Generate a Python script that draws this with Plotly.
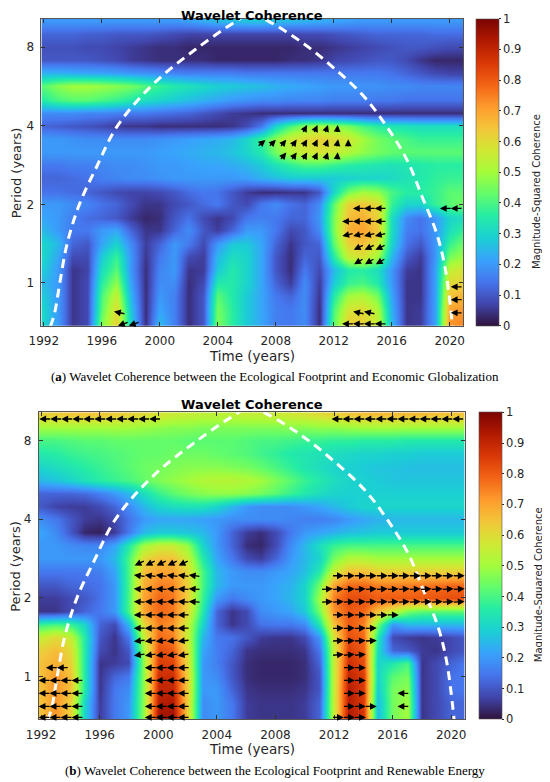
import numpy as np
import plotly.graph_objects as go

# ---------------- data ----------------
years = list(range(1992, 2022))

# period rows, top of the plot first
periods = [10.08, 8.98, 8.0, 7.13, 6.35, 5.66, 5.04, 4.49, 4.0, 3.56, 3.17, 2.83,
           2.52, 2.24, 2.0, 1.78, 1.59, 1.41, 1.26, 1.12, 1.0, 0.89, 0.79, 0.71]

# (a) Ecological Footprint vs Economic Globalization
coh_a = [
    [0.2, 0.2, 0.2, 0.2, 0.2, 0.2, 0.2, 0.2, 0.2, 0.2, 0.21, 0.23, 0.25, 0.26, 0.27, 0.27, 0.26, 0.25, 0.24, 0.23, 0.22, 0.21, 0.2, 0.2, 0.2, 0.2, 0.2, 0.2, 0.2, 0.2],
    [0.12, 0.12, 0.12, 0.11, 0.11, 0.1, 0.1, 0.1, 0.09, 0.08, 0.07, 0.07, 0.07, 0.07, 0.07, 0.07, 0.07, 0.07, 0.08, 0.08, 0.09, 0.1, 0.11, 0.12, 0.12, 0.12, 0.12, 0.13, 0.13, 0.13],
    [0.09, 0.09, 0.09, 0.08, 0.08, 0.07, 0.06, 0.05, 0.04, 0.04, 0.03, 0.03, 0.03, 0.03, 0.03, 0.03, 0.03, 0.03, 0.04, 0.04, 0.05, 0.06, 0.07, 0.08, 0.09, 0.1, 0.1, 0.09, 0.08, 0.08],
    [0.1, 0.1, 0.1, 0.1, 0.09, 0.08, 0.06, 0.05, 0.04, 0.04, 0.04, 0.04, 0.03, 0.03, 0.03, 0.03, 0.03, 0.04, 0.04, 0.05, 0.07, 0.08, 0.09, 0.1, 0.1, 0.08, 0.05, 0.03, 0.03, 0.03],
    [0.24, 0.24, 0.23, 0.22, 0.22, 0.21, 0.2, 0.19, 0.18, 0.17, 0.16, 0.16, 0.16, 0.16, 0.15, 0.15, 0.15, 0.15, 0.15, 0.15, 0.15, 0.15, 0.15, 0.15, 0.14, 0.12, 0.1, 0.08, 0.07, 0.07],
    [0.42, 0.47, 0.5, 0.5, 0.49, 0.47, 0.45, 0.41, 0.38, 0.35, 0.33, 0.31, 0.29, 0.28, 0.27, 0.26, 0.24, 0.23, 0.22, 0.21, 0.2, 0.2, 0.19, 0.19, 0.18, 0.18, 0.17, 0.17, 0.17, 0.17],
    [0.36, 0.4, 0.42, 0.42, 0.4, 0.38, 0.35, 0.32, 0.3, 0.28, 0.26, 0.24, 0.22, 0.2, 0.19, 0.18, 0.18, 0.17, 0.17, 0.17, 0.16, 0.16, 0.16, 0.15, 0.15, 0.14, 0.14, 0.14, 0.14, 0.14],
    [0.18, 0.18, 0.18, 0.17, 0.17, 0.16, 0.15, 0.15, 0.14, 0.13, 0.12, 0.1, 0.08, 0.06, 0.05, 0.04, 0.04, 0.04, 0.04, 0.04, 0.04, 0.04, 0.04, 0.04, 0.04, 0.04, 0.04, 0.04, 0.04, 0.04],
    [0.12, 0.11, 0.1, 0.09, 0.08, 0.06, 0.05, 0.05, 0.04, 0.04, 0.04, 0.04, 0.04, 0.05, 0.08, 0.15, 0.3, 0.4, 0.47, 0.5, 0.48, 0.45, 0.4, 0.36, 0.34, 0.33, 0.32, 0.32, 0.32, 0.32],
    [0.2, 0.2, 0.19, 0.18, 0.18, 0.18, 0.18, 0.18, 0.19, 0.2, 0.21, 0.22, 0.23, 0.25, 0.3, 0.38, 0.48, 0.56, 0.6, 0.62, 0.6, 0.57, 0.5, 0.45, 0.42, 0.4, 0.38, 0.38, 0.38, 0.38],
    [0.2, 0.2, 0.2, 0.2, 0.2, 0.2, 0.2, 0.2, 0.21, 0.22, 0.23, 0.24, 0.25, 0.27, 0.3, 0.35, 0.45, 0.52, 0.56, 0.58, 0.56, 0.52, 0.48, 0.45, 0.43, 0.42, 0.42, 0.42, 0.42, 0.42],
    [0.15, 0.15, 0.16, 0.16, 0.17, 0.18, 0.18, 0.19, 0.2, 0.2, 0.21, 0.22, 0.22, 0.23, 0.25, 0.28, 0.33, 0.37, 0.4, 0.4, 0.38, 0.36, 0.35, 0.34, 0.33, 0.34, 0.35, 0.36, 0.36, 0.36],
    [0.12, 0.12, 0.13, 0.14, 0.16, 0.17, 0.18, 0.18, 0.19, 0.2, 0.2, 0.2, 0.2, 0.2, 0.21, 0.24, 0.26, 0.28, 0.28, 0.28, 0.28, 0.29, 0.3, 0.3, 0.31, 0.33, 0.35, 0.37, 0.38, 0.38],
    [0.14, 0.14, 0.13, 0.12, 0.1, 0.08, 0.07, 0.07, 0.08, 0.1, 0.13, 0.15, 0.14, 0.1, 0.06, 0.04, 0.04, 0.05, 0.05, 0.1, 0.3, 0.45, 0.5, 0.48, 0.4, 0.36, 0.36, 0.38, 0.42, 0.42],
    [0.2, 0.2, 0.18, 0.17, 0.14, 0.12, 0.08, 0.05, 0.05, 0.08, 0.1, 0.13, 0.15, 0.1, 0.08, 0.15, 0.18, 0.14, 0.12, 0.18, 0.42, 0.62, 0.64, 0.6, 0.38, 0.3, 0.3, 0.38, 0.42, 0.45],
    [0.22, 0.2, 0.16, 0.13, 0.12, 0.1, 0.06, 0.03, 0.04, 0.1, 0.14, 0.08, 0.05, 0.08, 0.15, 0.16, 0.15, 0.12, 0.12, 0.2, 0.45, 0.66, 0.68, 0.62, 0.32, 0.18, 0.14, 0.2, 0.3, 0.32],
    [0.25, 0.2, 0.15, 0.15, 0.2, 0.22, 0.12, 0.05, 0.05, 0.12, 0.18, 0.1, 0.06, 0.12, 0.2, 0.2, 0.15, 0.08, 0.1, 0.18, 0.45, 0.68, 0.7, 0.64, 0.32, 0.16, 0.14, 0.2, 0.32, 0.38],
    [0.3, 0.25, 0.12, 0.1, 0.22, 0.3, 0.18, 0.06, 0.12, 0.2, 0.15, 0.08, 0.2, 0.28, 0.28, 0.22, 0.12, 0.05, 0.1, 0.12, 0.42, 0.62, 0.65, 0.58, 0.3, 0.14, 0.1, 0.2, 0.38, 0.45],
    [0.3, 0.22, 0.08, 0.08, 0.28, 0.38, 0.2, 0.05, 0.15, 0.2, 0.08, 0.06, 0.25, 0.32, 0.3, 0.22, 0.1, 0.04, 0.12, 0.1, 0.35, 0.55, 0.58, 0.5, 0.25, 0.1, 0.06, 0.2, 0.45, 0.5],
    [0.28, 0.2, 0.05, 0.07, 0.32, 0.42, 0.2, 0.04, 0.17, 0.2, 0.05, 0.06, 0.28, 0.35, 0.3, 0.22, 0.1, 0.04, 0.15, 0.08, 0.25, 0.35, 0.36, 0.32, 0.2, 0.06, 0.05, 0.22, 0.55, 0.58],
    [0.25, 0.2, 0.05, 0.08, 0.36, 0.48, 0.22, 0.04, 0.18, 0.18, 0.04, 0.08, 0.35, 0.35, 0.3, 0.22, 0.12, 0.06, 0.18, 0.06, 0.28, 0.38, 0.4, 0.35, 0.2, 0.05, 0.05, 0.22, 0.6, 0.62],
    [0.28, 0.2, 0.05, 0.08, 0.4, 0.55, 0.25, 0.04, 0.2, 0.16, 0.04, 0.1, 0.42, 0.35, 0.28, 0.22, 0.15, 0.12, 0.18, 0.05, 0.35, 0.5, 0.52, 0.45, 0.22, 0.05, 0.05, 0.22, 0.65, 0.68],
    [0.3, 0.2, 0.05, 0.08, 0.42, 0.6, 0.28, 0.04, 0.22, 0.16, 0.04, 0.1, 0.45, 0.36, 0.28, 0.22, 0.16, 0.15, 0.18, 0.04, 0.4, 0.58, 0.6, 0.52, 0.24, 0.05, 0.06, 0.22, 0.7, 0.72],
    [0.3, 0.2, 0.05, 0.08, 0.45, 0.62, 0.3, 0.04, 0.25, 0.16, 0.04, 0.1, 0.46, 0.36, 0.28, 0.22, 0.16, 0.15, 0.18, 0.04, 0.42, 0.62, 0.62, 0.55, 0.25, 0.05, 0.06, 0.22, 0.72, 0.74],
]

# (b) Ecological Footprint vs Renewable Energy
coh_b = [
    [0.62, 0.63, 0.64, 0.64, 0.64, 0.63, 0.62, 0.6, 0.58, 0.56, 0.55, 0.54, 0.54, 0.54, 0.55, 0.55, 0.56, 0.57, 0.58, 0.6, 0.62, 0.64, 0.65, 0.66, 0.66, 0.66, 0.66, 0.65, 0.65, 0.65],
    [0.5, 0.5, 0.5, 0.5, 0.5, 0.5, 0.5, 0.49, 0.48, 0.47, 0.47, 0.46, 0.46, 0.46, 0.46, 0.46, 0.46, 0.47, 0.47, 0.48, 0.48, 0.49, 0.5, 0.5, 0.5, 0.5, 0.5, 0.5, 0.5, 0.5],
    [0.4, 0.4, 0.41, 0.42, 0.42, 0.43, 0.43, 0.43, 0.43, 0.43, 0.42, 0.42, 0.42, 0.42, 0.41, 0.4, 0.4, 0.39, 0.38, 0.38, 0.37, 0.37, 0.36, 0.36, 0.36, 0.35, 0.35, 0.35, 0.35, 0.35],
    [0.35, 0.36, 0.38, 0.39, 0.4, 0.41, 0.42, 0.43, 0.43, 0.44, 0.44, 0.44, 0.43, 0.42, 0.41, 0.39, 0.37, 0.35, 0.34, 0.33, 0.32, 0.31, 0.3, 0.3, 0.29, 0.29, 0.28, 0.28, 0.28, 0.28],
    [0.3, 0.32, 0.34, 0.36, 0.38, 0.4, 0.42, 0.44, 0.45, 0.46, 0.47, 0.47, 0.47, 0.46, 0.45, 0.43, 0.4, 0.37, 0.34, 0.32, 0.3, 0.29, 0.28, 0.27, 0.27, 0.26, 0.26, 0.26, 0.26, 0.26],
    [0.25, 0.27, 0.3, 0.33, 0.36, 0.38, 0.4, 0.43, 0.46, 0.48, 0.5, 0.52, 0.53, 0.53, 0.52, 0.5, 0.46, 0.42, 0.38, 0.35, 0.32, 0.3, 0.29, 0.28, 0.27, 0.27, 0.27, 0.27, 0.27, 0.27],
    [0.12, 0.12, 0.12, 0.13, 0.16, 0.2, 0.25, 0.32, 0.38, 0.42, 0.45, 0.47, 0.48, 0.48, 0.47, 0.45, 0.42, 0.38, 0.35, 0.32, 0.3, 0.29, 0.29, 0.29, 0.29, 0.29, 0.29, 0.29, 0.29, 0.29],
    [0.1, 0.07, 0.06, 0.06, 0.08, 0.12, 0.18, 0.25, 0.3, 0.32, 0.33, 0.33, 0.3, 0.25, 0.2, 0.18, 0.18, 0.18, 0.2, 0.22, 0.25, 0.28, 0.3, 0.3, 0.3, 0.3, 0.3, 0.3, 0.3, 0.3],
    [0.18, 0.15, 0.1, 0.06, 0.05, 0.08, 0.14, 0.2, 0.22, 0.22, 0.22, 0.21, 0.2, 0.18, 0.18, 0.18, 0.18, 0.17, 0.16, 0.16, 0.17, 0.2, 0.22, 0.24, 0.25, 0.25, 0.25, 0.25, 0.25, 0.25],
    [0.22, 0.18, 0.1, 0.03, 0.02, 0.06, 0.15, 0.25, 0.28, 0.28, 0.27, 0.25, 0.2, 0.12, 0.06, 0.04, 0.08, 0.15, 0.2, 0.22, 0.24, 0.26, 0.27, 0.28, 0.28, 0.28, 0.28, 0.28, 0.28, 0.28],
    [0.2, 0.2, 0.18, 0.17, 0.17, 0.22, 0.35, 0.5, 0.55, 0.55, 0.48, 0.3, 0.2, 0.12, 0.04, 0.03, 0.08, 0.18, 0.25, 0.32, 0.38, 0.4, 0.4, 0.4, 0.4, 0.4, 0.4, 0.4, 0.4, 0.4],
    [0.2, 0.2, 0.2, 0.2, 0.2, 0.25, 0.4, 0.6, 0.65, 0.65, 0.55, 0.35, 0.22, 0.15, 0.08, 0.06, 0.12, 0.2, 0.25, 0.3, 0.45, 0.52, 0.52, 0.5, 0.5, 0.5, 0.5, 0.5, 0.5, 0.5],
    [0.15, 0.15, 0.15, 0.15, 0.16, 0.22, 0.4, 0.65, 0.7, 0.7, 0.6, 0.4, 0.25, 0.2, 0.18, 0.18, 0.2, 0.22, 0.26, 0.35, 0.55, 0.65, 0.65, 0.62, 0.62, 0.62, 0.62, 0.62, 0.62, 0.62],
    [0.1, 0.1, 0.12, 0.13, 0.14, 0.2, 0.4, 0.68, 0.75, 0.74, 0.62, 0.4, 0.25, 0.2, 0.2, 0.2, 0.22, 0.24, 0.3, 0.45, 0.7, 0.78, 0.78, 0.75, 0.75, 0.75, 0.76, 0.77, 0.78, 0.78],
    [0.06, 0.06, 0.08, 0.1, 0.14, 0.2, 0.4, 0.7, 0.78, 0.76, 0.62, 0.38, 0.2, 0.15, 0.18, 0.2, 0.22, 0.25, 0.3, 0.5, 0.75, 0.82, 0.82, 0.8, 0.8, 0.8, 0.8, 0.81, 0.82, 0.82],
    [0.05, 0.05, 0.08, 0.12, 0.15, 0.2, 0.4, 0.7, 0.78, 0.76, 0.6, 0.35, 0.12, 0.05, 0.08, 0.18, 0.2, 0.22, 0.28, 0.45, 0.72, 0.8, 0.78, 0.65, 0.55, 0.45, 0.42, 0.42, 0.42, 0.42],
    [0.38, 0.4, 0.38, 0.3, 0.12, 0.08, 0.25, 0.6, 0.75, 0.72, 0.55, 0.3, 0.12, 0.05, 0.08, 0.14, 0.15, 0.15, 0.18, 0.35, 0.65, 0.8, 0.75, 0.45, 0.2, 0.25, 0.25, 0.25, 0.25, 0.25],
    [0.55, 0.6, 0.55, 0.35, 0.1, 0.05, 0.15, 0.55, 0.78, 0.75, 0.55, 0.25, 0.15, 0.14, 0.1, 0.06, 0.05, 0.05, 0.08, 0.2, 0.58, 0.82, 0.78, 0.35, 0.08, 0.06, 0.05, 0.06, 0.08, 0.1],
    [0.62, 0.66, 0.6, 0.35, 0.08, 0.05, 0.1, 0.5, 0.82, 0.8, 0.58, 0.22, 0.16, 0.12, 0.05, 0.04, 0.04, 0.04, 0.05, 0.15, 0.55, 0.85, 0.8, 0.32, 0.12, 0.1, 0.06, 0.05, 0.08, 0.1],
    [0.65, 0.68, 0.62, 0.35, 0.05, 0.06, 0.08, 0.48, 0.85, 0.84, 0.6, 0.2, 0.16, 0.1, 0.04, 0.03, 0.03, 0.03, 0.04, 0.12, 0.55, 0.88, 0.82, 0.3, 0.35, 0.4, 0.05, 0.08, 0.12, 0.15],
    [0.65, 0.72, 0.65, 0.35, 0.05, 0.12, 0.15, 0.48, 0.88, 0.88, 0.62, 0.2, 0.18, 0.1, 0.04, 0.03, 0.03, 0.03, 0.04, 0.1, 0.55, 0.9, 0.85, 0.3, 0.42, 0.45, 0.05, 0.08, 0.14, 0.15],
    [0.65, 0.72, 0.65, 0.35, 0.05, 0.15, 0.18, 0.48, 0.9, 0.9, 0.62, 0.2, 0.2, 0.12, 0.05, 0.04, 0.04, 0.04, 0.05, 0.1, 0.55, 0.92, 0.85, 0.28, 0.45, 0.48, 0.05, 0.08, 0.14, 0.15],
    [0.65, 0.72, 0.62, 0.3, 0.06, 0.15, 0.2, 0.48, 0.92, 0.93, 0.62, 0.18, 0.2, 0.15, 0.06, 0.05, 0.05, 0.05, 0.06, 0.12, 0.55, 0.92, 0.85, 0.25, 0.45, 0.5, 0.05, 0.08, 0.12, 0.12],
    [0.65, 0.72, 0.62, 0.3, 0.06, 0.15, 0.2, 0.48, 0.94, 0.95, 0.62, 0.18, 0.2, 0.15, 0.06, 0.05, 0.05, 0.05, 0.06, 0.12, 0.55, 0.93, 0.86, 0.25, 0.45, 0.5, 0.05, 0.08, 0.12, 0.12],
]

# cone of influence (same for both panels)
coi_years = [1992.45, 1992.75, 1993.1, 1993.6, 1994.45, 1995.7, 1996.9, 1998.4, 2000.25, 2002.45, 2005.0,
             2006.25, 2007.5, 2009.9, 2012.05, 2014.1, 2015.7, 2017.07, 2018.1, 2019.1, 2019.7, 2020.2]
coi_periods = [0.68, 0.77, 1.0, 1.41, 2.0, 2.83, 3.86, 4.96, 6.28, 7.84, 9.85,
               10.7, 10.06, 8.28, 6.63, 5.17, 3.94, 2.95, 2.14, 1.55, 1.13, 0.68]

# phase arrows: (period, first year, last year, angle in degrees); one arrow every 0.75 yr
arrows_a = [
    (3.88, 2010.0, 2012.25, [60, 65, 70, 85]),
    (3.42, 2007.0, 2013.0, [40, 45, 50, 55, 60, 65, 70, 80, 90]),
    (3.05, 2008.5, 2012.25, [50, 55, 60, 65, 72, 85]),
    (1.93, 2013.75, 2015.25, 180),
    (1.93, 2019.75, 2020.5, 180),
    (1.72, 2013.0, 2015.25, 180),
    (1.53, 2013.0, 2015.25, 193),
    (1.37, 2013.75, 2015.25, 205),
    (1.21, 2013.75, 2015.25, 210),
    (0.966, 2020.5, 2020.5, 180),
    (0.862, 2020.5, 2020.5, 180),
    (0.768, 2020.5, 2020.5, 180),
    (0.768, 2013.75, 2014.5, 168),
    (0.768, 1997.25, 1997.25, 168),
    (0.697, 2013.0, 2015.25, 180),
    (0.697, 1997.5, 1998.25, 200),
]

arrows_b = [
    (9.68, 1992.3, 1999.8, 180),
    (9.68, 2012.25, 2020.5, 180),
    (2.72, 1998.75, 2001.75, 205),
    (2.43, 1998.75, 2002.5, 172),
    (2.16, 1998.75, 2002.5, 176),
    (1.93, 1998.75, 2002.5, 176),
    (1.72, 1998.75, 2001.75, 180),
    (1.53, 1998.75, 2001.75, 180),
    (1.37, 1998.75, 2001.75, 186),
    (1.21, 1998.75, 2001.75, 188),
    (1.08, 1999.5, 2001.75, 180),
    (0.966, 1999.5, 2001.75, 180),
    (0.862, 1999.5, 2001.75, 180),
    (0.768, 1999.5, 2001.75, 180),
    (0.697, 1999.5, 2001.75, 180),
    (1.08, 1992.75, 1993.5, 180),
    (0.966, 1992.25, 1994.5, 180),
    (0.862, 1992.25, 1994.5, 180),
    (0.768, 1992.25, 1994.5, 180),
    (0.697, 1992.25, 1994.5, 180),
    (2.43, 2012.25, 2020.5, 0),
    (2.16, 2011.5, 2020.5, 3),
    (1.93, 2011.5, 2020.5, 3),
    (1.72, 2012.25, 2016.0, 0),
    (1.53, 2012.25, 2014.5, 2),
    (1.37, 2012.25, 2014.5, 3),
    (1.21, 2012.25, 2013.75, 5),
    (1.08, 2013.0, 2013.75, 0),
    (0.966, 2013.0, 2013.75, 0),
    (0.862, 2013.0, 2013.75, 0),
    (0.768, 2013.0, 2014.5, 0),
    (0.697, 2012.25, 2013.75, 0),
    (0.862, 2016.75, 2016.75, 180),
    (0.768, 2016.75, 2016.75, 180),
]

captions = [
    "(<b>a</b>) Wavelet Coherence between the Ecological Footprint and Economic Globalization",
    "(<b>b</b>) Wavelet Coherence between the Ecological Footprint and Renewable Energy",
]

for grid in (coh_a, coh_b):
    assert len(grid) == len(periods)
    for row in grid:
        assert len(row) == len(years), len(row)

# ---------------- geometry (pixels in the 550x782 window) ----------------
# the page body keeps its default 8px margin, so the figure starts at (8, 8)
OFF = 8
W, H = 550 - OFF, 782 - OFF
X_RANGE = [1991.83, 2020.92]
Y_RANGE = [-0.545, 3.36]          # log2(period)
SANS = "DejaVu Sans"
INK = "#262626"


def fx(px):
    return (px - OFF) / W


def fy(py):
    return 1 - (py - OFF) / H


panels = [
    dict(box=(41.4, 19.0, 463.0, 325.7), cbar_x=476.0, title_y=15.0, xlab_y=356.0,
         ylab_x=16.0, cblab_x=536.7, cap_y=376.7, coh=coh_a, arrows=arrows_a),
    dict(box=(38.6, 412.3, 464.7, 719.3), cbar_x=478.8, title_y=404.3, xlab_y=749.3,
         ylab_x=16.0, cblab_x=538.4, cap_y=770.0, coh=coh_b, arrows=arrows_b),
]

fig = go.Figure()
annotations = []
y_levels = np.log2(periods[::-1])

for i, p in enumerate(panels):
    n = "" if i == 0 else str(i + 1)
    xr, yr = "x" + n, "y" + n
    left, top, right, bottom = p["box"]
    ppx = (right - left) / (X_RANGE[1] - X_RANGE[0])
    ppy = (bottom - top) / (Y_RANGE[1] - Y_RANGE[0])

    fig.add_trace(go.Heatmap(
        x=years, y=y_levels, z=p["coh"][::-1],
        colorscale="Turbo", zmin=0, zmax=1, zsmooth="best",
        xaxis=xr, yaxis=yr, hoverinfo="skip",
        colorbar=dict(
            x=fx(p["cbar_x"]), xanchor="left", xpad=0,
            y=fy(bottom), yanchor="bottom", ypad=0,
            len=bottom - top, lenmode="pixels",
            thickness=23, thicknessmode="pixels",
            outlinewidth=0.6, outlinecolor="#555555",
            tickvals=[k / 10 for k in range(11)],
            ticktext=["0"] + [f"0.{k}" for k in range(1, 10)] + ["1"],
            ticks="outside", ticklen=2, tickcolor=INK,
            tickfont=dict(family=SANS, size=11.5, color=INK),
        ),
    ))

    fig.add_trace(go.Scatter(
        x=coi_years, y=np.log2(coi_periods), mode="lines",
        line=dict(color="white", width=3, dash="9px,6px", shape="spline"),
        xaxis=xr, yaxis=yr, hoverinfo="skip", showlegend=False,
    ))

    axis_style = dict(
        showgrid=False, zeroline=False, showline=True, linecolor="#555555", linewidth=0.8,
        mirror="ticks", ticks="inside", ticklen=4, tickwidth=0.8, tickcolor="#333333",
        tickfont=dict(family=SANS, size=12, color=INK), ticklabelstandoff=4,
        automargin=False,
    )
    fig.update_layout({
        "xaxis" + n: dict(axis_style, range=X_RANGE, tickvals=list(range(1992, 2021, 4)),
                          domain=[fx(left), fx(right)], anchor=yr),
        "yaxis" + n: dict(axis_style, range=Y_RANGE, tickvals=[0, 1, 2, 3],
                          ticktext=["1", "2", "4", "8"],
                          domain=[fy(bottom), fy(top)], anchor=xr),
    })

    # phase arrows
    for period, first, last, angle in p["arrows"]:
        xs = np.arange(first, last + 0.01, 0.75)
        angles = angle if isinstance(angle, list) else [angle] * len(xs)
        lvl = float(np.log2(period))
        for xc, a in zip(xs, angles):
            t = np.radians(a)
            half = 0.5 * np.hypot(12.3 * np.cos(t), 8.5 * np.sin(t))
            dx = half * np.cos(t) / ppx
            dy = half * np.sin(t) / ppy
            annotations.append(dict(
                x=xc + dx, y=lvl + dy, ax=xc - dx, ay=lvl - dy,
                xref=xr, yref=yr, axref=xr, ayref=yr, text="",
                showarrow=True, arrowhead=2, arrowsize=1.05, arrowwidth=1.3,
                arrowcolor="black", standoff=0,
            ))

    cx = (left + right) / 2
    annotations += [
        dict(text="<b>Wavelet Coherence</b>", x=fx(cx), y=fy(p["title_y"]),
             font=dict(family=SANS, size=13, color="black")),
        dict(text="Time (years)", x=fx(cx), y=fy(p["xlab_y"]),
             font=dict(family=SANS, size=13.5, color=INK)),
        dict(text="Period (years)", x=fx(p["ylab_x"]), y=fy((top + bottom) / 2 + 1),
             textangle=-90, font=dict(family=SANS, size=13, color=INK)),
        dict(text="Magnitude-Squared Coherence", x=fx(p["cblab_x"]), y=fy((top + bottom) / 2 + 19),
             textangle=-90, font=dict(family=SANS, size=10, color=INK)),
        dict(text=captions[i], x=fx(275.2), y=fy(p["cap_y"]),
             font=dict(family="Liberation Serif", size=13, color="black")),
    ]

for a in annotations:
    if a.get("xref") is None:
        a.update(xref="paper", yref="paper", showarrow=False, xanchor="center", yanchor="middle")

fig.update_layout(
    width=W, height=H, margin=dict(l=0, r=0, t=0, b=0, pad=0, autoexpand=False),
    paper_bgcolor="white", plot_bgcolor="white",
    showlegend=False, annotations=annotations,
)

fig.write_html("out.html")
